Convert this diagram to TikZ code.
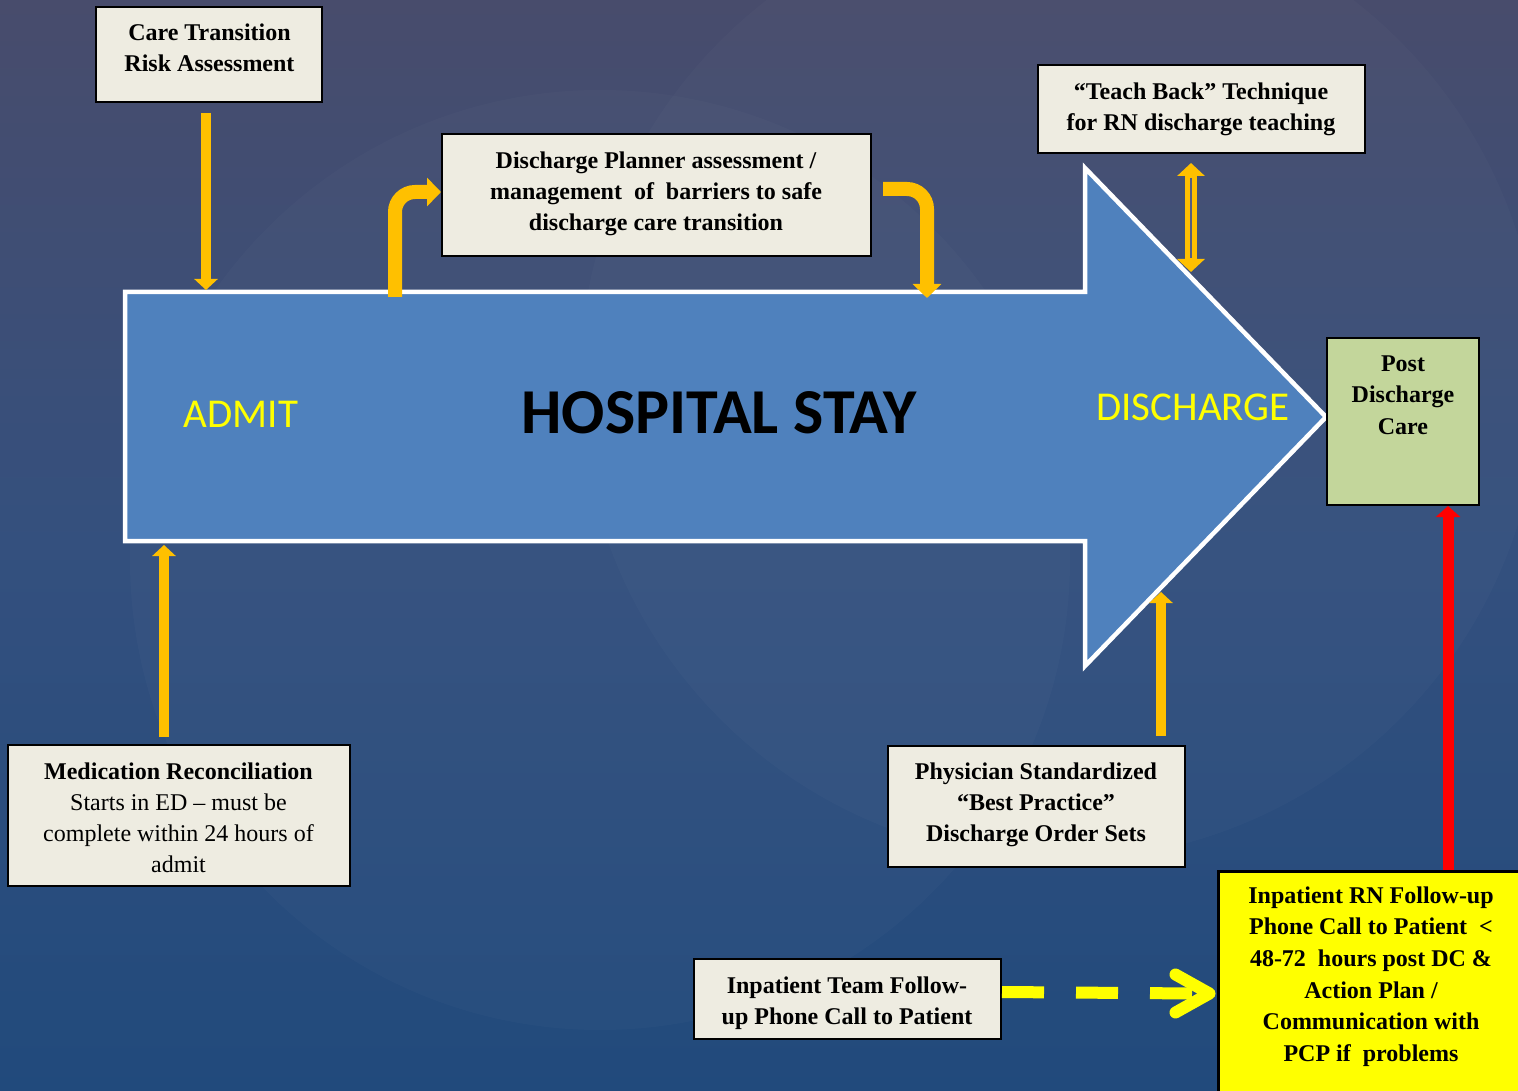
\documentclass[tikz,border=0pt]{standalone}
\usepackage{fontspec}
\setmainfont{Liberation Serif}
\newfontfamily\carlito{Carlito}
\usetikzlibrary{arrows.meta}
\definecolor{bgtop}{RGB}{72,76,108}
\definecolor{bgmid}{RGB}{52,80,126}
\definecolor{bgbot}{RGB}{33,74,124}
\definecolor{abl}{RGB}{79,129,189}
\definecolor{cream}{RGB}{238,236,225}
\definecolor{pgreen}{RGB}{195,214,155}
\definecolor{orng}{RGB}{255,192,0}
\definecolor{yel}{RGB}{255,255,0}
\definecolor{gapc}{RGB}{86,93,128}
\tikzset{
  box/.style={draw=black, line width=2pt, fill=cream, inner sep=0pt},
  txt/.style={font=\fontsize{24}{31}\selectfont\bfseries, align=center, inner sep=0pt, text=black},
  oarrow/.style={draw=orng, line width=10pt, -{Triangle[length=11pt,width=23pt]}},
  obent/.style={draw=orng, line width=14pt, rounded corners=20pt, -{Triangle[length=14pt,width=28pt]}},
  darrow/.style={draw=orng, line width=12pt, {Triangle[length=13pt,width=27pt]}-{Triangle[length=13pt,width=27pt]}},
  rarrow/.style={draw=red, line width=11pt, -{Triangle[length=11pt,width=24pt]}},
  bigword/.style={font=\carlito\fontsize{41}{45}\selectfont, text=yel, inner sep=0pt}
}
\begin{document}
\begin{tikzpicture}[x=1pt,y=-1pt]
\useasboundingbox (0,0) rectangle (1518,1091);
% background
\shade[top color=bgtop, bottom color=bgbot, middle color=bgmid] (0,0) rectangle (1518,1091);
\begin{scope}
\clip (0,0) rectangle (1518,1091);
\fill[white, opacity=0.02] (600,560) circle (470);
\fill[white, opacity=0.02] (1060,380) circle (480);
\end{scope}
% big arrow
\draw[draw=white, line width=4.5pt, fill=abl, line join=miter]
  (125,292) -- (1085,292) -- (1085,168) -- (1326,417) -- (1085,666) -- (1085,541) -- (125,541) -- cycle;
\node[bigword] (admit) at (241,414) {ADMIT};
\node[bigword] (disch) at (1193,407) {DISCHARGE};
\node[font=\carlito\bfseries\fontsize{64}{68}\selectfont, text=black, inner sep=0pt] (stay) at (719,413) {HOSPITAL STAY};
% boxes
\node[box, minimum width=226pt, minimum height=95pt] (ct) at (209,54.5) {};
\node[txt] (cttext) at (209.5,48) {Care Transition\\Risk Assessment};
\node[box, minimum width=429pt, minimum height=122pt] (dp) at (656.5,195) {};
\node[txt] (dptext) at (656,193.5) {Discharge Planner assessment /\\management~ of~ barriers to safe\\discharge care transition};
\node[box, minimum width=327pt, minimum height=88pt] (tb) at (1201.5,109) {};
\node[txt] (tbtext) at (1201,109) {“Teach Back” Technique\\for RN discharge teaching};
\node[box, fill=pgreen, minimum width=152pt, minimum height=167pt] (pdc) at (1403,421.5) {};
\node[txt, font=\fontsize{24}{31.5}\selectfont\bfseries] (pdctext) at (1403,395) {Post\\Discharge\\Care};
\node[box, minimum width=342pt, minimum height=141pt] (mr) at (179,815.5) {};
\node[txt, font=\fontsize{24}{31}\selectfont] (mrtext) at (178.5,818) {\textbf{Medication Reconciliation}\\Starts in ED – must be\\complete within 24 hours of\\admit};
\node[box, minimum width=297pt, minimum height=121pt] (ps) at (1036.5,806.5) {};
\node[txt] (pstext) at (1036,805) {Physician Standardized\\“Best Practice”\\Discharge Order Sets};
\node[box, minimum width=307pt, minimum height=80pt] (it) at (847.5,999) {};
\node[txt] (ittext) at (847,1003) {Inpatient Team Follow-\\up Phone Call to Patient};
\node[box, fill=yel, line width=3pt, minimum width=304pt, minimum height=240pt, anchor=north] (rn) at (1370,870) {};
\node[txt, font=\fontsize{24}{31.6}\selectfont\bfseries] (rntext) at (1371,976.5) {Inpatient RN Follow-up\\Phone Call to Patient~ <\\48-72~ hours post DC \&\\Action Plan /\\Communication with\\PCP if~ problems};
% connector end points on the big arrow
\coordinate (aTop) at (206,290);
\coordinate (aBot) at (164,545);
\coordinate (aHead) at (1161,592);
\coordinate (bentA) at (395,297);
\coordinate (bentB) at (927,298);
\coordinate (dbl) at (1191,272);
\coordinate (redx) at (1448,0);
% connectors
\draw[oarrow, shorten <=10pt] (ct.south -| aTop) -- (aTop);
\draw[oarrow, shorten <=7pt] (mr.north -| aBot) -- (aBot);
\draw[oarrow, shorten <=9pt] (ps.north -| aHead) -- (aHead);
\draw[obent] (bentA) |- ([yshift=3pt]dp.west);
\draw[obent, shorten <=11pt] ([yshift=6pt]dp.east) -| (bentB);
\draw[darrow, shorten <=9pt] (tb.south -| dbl) -- (dbl);
\draw[draw=gapc, line width=2.5pt] ([yshift=-24pt]tb.south -| dbl) -- ([yshift=14pt]dbl);
\draw[rarrow] (rn.north -| redx) -- (pdc.south -| redx);
\coordinate (chev) at ([xshift=-7pt,yshift=-2pt]rn.west);
\draw[draw=yel, line width=12pt, dash pattern=on 42pt off 32pt] ([yshift=7pt]it.east) -- ([xshift=-14pt]chev);
\draw[draw=yel, line width=12pt, line cap=round, line join=round]
  ([xshift=-34pt,yshift=19pt]chev) -- (chev) -- ([xshift=-34pt,yshift=-19pt]chev);
\end{tikzpicture}
\end{document}
